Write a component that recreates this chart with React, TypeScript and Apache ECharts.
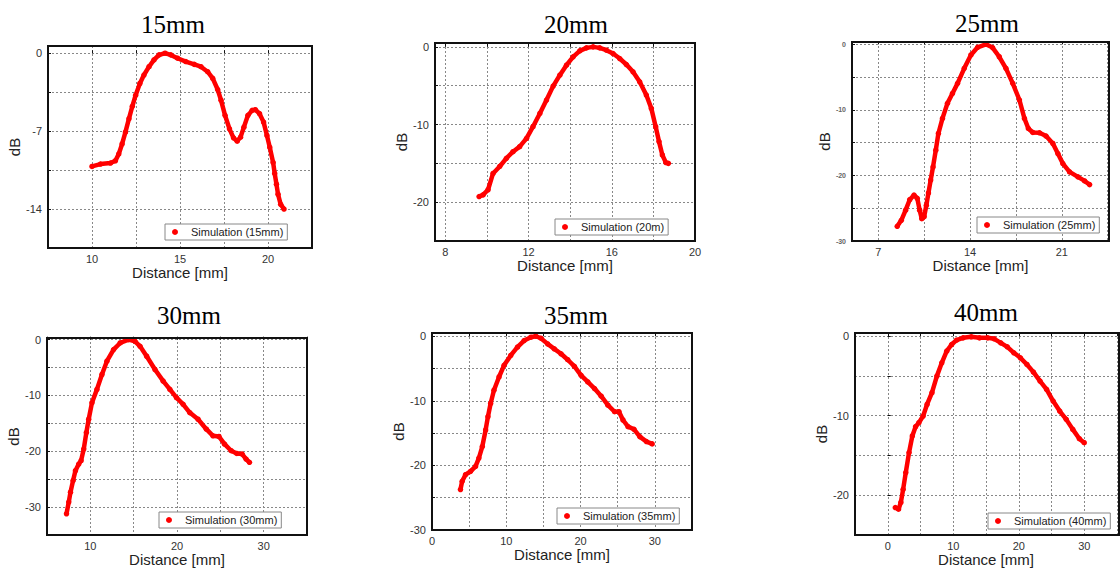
import React, { useEffect, useRef } from 'react';
import * as echarts from 'echarts';

// ---------- data ----------
const titles = ['15mm', '20mm', '25mm', '30mm', '35mm', '40mm'];
const legendNames = [
  'Simulation (15mm)',
  'Simulation (20m)',
  'Simulation (25mm)',
  'Simulation (30mm)',
  'Simulation (35mm)',
  'Simulation (40mm)',
];

const x15 = [10, 10.48, 11.05, 11.33, 11.52, 11.71, 11.9, 12.1, 12.29, 12.48, 12.72, 12.95, 13.24, 13.52, 13.81, 14.15, 14.48, 14.86, 15.33, 15.81, 16.19, 16.57, 16.86, 17.14, 17.33, 17.56, 17.81, 18.04, 18.25, 18.44, 18.63, 18.86, 19.1, 19.28, 19.52, 19.75, 19.94, 20.1, 20.29, 20.38, 20.48, 20.57, 20.72, 20.91];
const y15 = [-10.17, -9.96, -9.87, -9.66, -9.05, -8.15, -7.09, -5.88, -4.77, -3.77, -2.72, -1.96, -1.21, -0.6, -0.15, 0, -0.15, -0.45, -0.75, -1.0, -1.21, -1.66, -2.26, -3.26, -4.22, -5.58, -6.79, -7.6, -7.9, -7.54, -6.64, -5.58, -5.13, -5.07, -5.43, -6.19, -7.39, -8.45, -9.81, -10.8, -11.77, -12.67, -13.58, -14.0];

const x20 = [9.62, 9.81, 10.05, 10.29, 10.61, 10.93, 11.25, 11.57, 11.9, 12.21, 12.54, 12.86, 13.18, 13.5, 13.82, 14.14, 14.46, 14.78, 15.1, 15.42, 15.74, 16.06, 16.38, 16.7, 17.02, 17.34, 17.66, 17.9, 18.11, 18.27, 18.43, 18.6, 18.72];
const y20 = [-19.27, -19.06, -18.4, -16.3, -15.4, -14.35, -13.5, -12.85, -11.78, -10.28, -8.57, -6.85, -5.05, -3.64, -2.36, -1.28, -0.51, -0.13, 0, -0.13, -0.43, -0.86, -1.5, -2.27, -3.21, -4.5, -6.2, -7.92, -10.28, -12.2, -13.92, -14.9, -15.0];

const x25 = [8.45, 8.76, 9.09, 9.4, 9.73, 9.98, 10.16, 10.32, 10.5, 10.67, 10.83, 11.0, 11.18, 11.39, 11.59, 11.9, 12.28, 12.66, 13.05, 13.56, 14.07, 14.58, 15.21, 15.72, 16.23, 16.74, 17.26, 17.77, 18.15, 18.45, 18.79, 19.3, 19.8, 20.32, 20.7, 21.08, 21.59, 22.23, 22.74, 23.12];
const y25 = [-27.76, -26.85, -25.3, -23.7, -23.0, -23.5, -25.3, -26.6, -26.3, -24.55, -22.67, -20.7, -18.7, -16.15, -13.6, -11.3, -9.0, -7.5, -5.96, -3.67, -1.63, -0.46, 0, -0.5, -1.9, -3.67, -5.96, -8.5, -11.3, -12.84, -13.45, -13.5, -14.0, -15.13, -16.66, -18.19, -19.46, -20.22, -20.84, -21.4];

const x30 = [7.25, 7.51, 7.71, 8.01, 8.28, 8.66, 8.93, 9.24, 9.54, 9.81, 10.19, 10.76, 11.34, 11.91, 12.68, 13.44, 14.4, 15.16, 15.74, 16.5, 17.46, 18.41, 19.18, 19.94, 20.71, 21.47, 22.43, 23.39, 24.15, 24.84, 25.49, 26.25, 26.9, 27.52, 27.97, 28.36];
const y30 = [-31.2, -29.1, -27.33, -25.25, -23.47, -22.28, -21.69, -19.6, -16.64, -14.26, -11.29, -8.91, -6.24, -3.86, -1.78, -0.59, 0, -0.3, -1.19, -2.97, -5.35, -7.43, -8.91, -10.4, -11.59, -13.07, -14.26, -16.04, -17.23, -17.35, -18.72, -19.9, -20.38, -20.5, -21.39, -21.98];

const x35 = [3.83, 4.06, 4.51, 5.19, 5.86, 6.31, 6.77, 7.22, 7.53, 7.89, 8.34, 9.02, 9.7, 10.6, 11.5, 12.4, 13.31, 13.98, 14.66, 15.56, 16.46, 17.37, 18.27, 19.17, 20.07, 20.97, 21.88, 22.78, 23.68, 24.58, 25.17, 25.71, 26.39, 27.2, 27.97, 28.87, 29.64];
const y35 = [-23.74, -22.46, -21.44, -20.92, -20.15, -18.87, -17.08, -14.51, -12.46, -10.41, -8.36, -6.31, -4.51, -2.97, -1.69, -0.67, -0.15, 0, -0.31, -1.18, -1.95, -2.72, -3.64, -4.67, -6.05, -7.08, -8.1, -9.28, -10.67, -11.69, -11.69, -12.97, -14.0, -14.41, -15.54, -16.31, -16.67];

const x40 = [1.15, 1.65, 2.0, 2.35, 2.75, 3.25, 3.75, 4.25, 4.75, 5.4, 6.0, 6.75, 7.5, 8.25, 9.0, 9.75, 10.5, 11.5, 12.75, 14.0, 15.25, 16.25, 17.25, 18.25, 19.25, 20.25, 21.25, 22.25, 23.25, 24.25, 25.25, 26.25, 27.25, 28.25, 29.25, 30.0];
const y40 = [-21.55, -21.76, -20.9, -19.25, -17.15, -14.64, -12.55, -11.38, -10.88, -10.04, -8.58, -7.11, -5.02, -3.35, -1.88, -1.05, -0.5, -0.21, -0.08, -0.21, -0.21, -0.33, -0.84, -1.34, -2.09, -2.72, -3.56, -4.52, -5.65, -6.69, -8.16, -9.41, -10.46, -11.72, -12.89, -13.39];

const xTicks15 = [10, 15, 20];
const yTicks15 = [0, -7, -14];
const xTicks20 = [8, 12, 16, 20];
const yTicks20 = [0, -10, -20];
const xTicks25 = [7, 14, 21];
const yTicks25 = [0, -10, -20, -30];
const xTicks30 = [10, 20, 30];
const yTicks30 = [0, -10, -20, -30];
const xTicks35 = [0, 10, 20, 30];
const yTicks35 = [0, -10, -20, -30];
const xTicks40 = [0, 10, 20, 30];
const yTicks40 = [0, -10, -20];

const xName = 'Distance [mm]';
const yName = 'dB';

// ---------- layout ----------
const panels = [
  { xs: x15, ys: y15, xt: xTicks15, yt: yTicks15, grid: [48, 46, 264, 202], xr: [7.5, 22.5, 2.5], yr: [-17.5, 0.65, 3.5], tp: [173, 24], lp: [165, 224], yGap: 16, xGap: 16, smallY: false },
  { xs: x20, ys: y20, xt: xTicks20, yt: yTicks20, grid: [435, 43, 260, 198], xr: [7.5, 20, 2], yr: [-25, 0.5, 5], tp: [576, 24], lp: [555, 219], yGap: 15, xGap: 16, smallY: false },
  { xs: x25, ys: y25, xt: xTicks25, yt: yTicks25, grid: [852, 42, 257, 199], xr: [5, 24.6, 3.5], yr: [-30, 0.35, 5], tp: [987, 23], lp: [977, 217], yGap: 14, xGap: 14, smallY: true },
  { xs: x30, ys: y30, xt: xTicks30, yt: yTicks30, grid: [47, 338, 260, 197], xr: [5, 35, 5], yr: [-35, 0.3, 5], tp: [189, 315], lp: [159, 512], yGap: 22, xGap: 14, smallY: false },
  { xs: x35, ys: y35, xt: xTicks35, yt: yTicks35, grid: [432, 333, 260, 197], xr: [0, 35, 5], yr: [-30, 0.5, 5], tp: [576, 315], lp: [557, 508], yGap: 16, xGap: 11, smallY: false },
  { xs: x40, ys: y40, xt: xTicks40, yt: yTicks40, grid: [855, 333, 264, 202], xr: [-5, 35, 5], yr: [-25, 0.4, 5], tp: [986, 312], lp: [988, 513], yGap: 17, xGap: 13, smallY: false },
];

const FONT = 'Liberation Sans';
const RED = '#ff0000';

function labelFormatter(list: number[]) {
  return (v: number) => (list.some((l) => Math.abs(l - v) < 1e-6) ? String(v) : '');
}

function buildOption() {
  const grid: any[] = [];
  const xAxis: any[] = [];
  const yAxis: any[] = [];
  const series: any[] = [];
  const legend: any[] = [];
  const graphic: any[] = [];

  panels.forEach((p, i) => {
    grid.push({
      left: p.grid[0], top: p.grid[1], width: p.grid[2], height: p.grid[3],
      show: false,
    });
    xAxis.push({
      type: 'value', gridIndex: i, min: p.xr[0], max: p.xr[1], minInterval: p.xr[2], maxInterval: p.xr[2],
      splitNumber: 8,
      axisLine: { show: false },
      axisTick: { show: true, inside: true, length: 3, lineStyle: { color: '#111' } },
      splitLine: { show: true, lineStyle: { color: '#888', type: [2, 2], width: 1 } },
      axisLabel: { formatter: labelFormatter(p.xt), fontSize: 11, color: '#333', fontFamily: FONT, margin: 5 },
      name: xName, nameLocation: 'middle', nameGap: p.xGap,
      nameTextStyle: { fontSize: 15, color: '#222', fontFamily: FONT },
    });
    yAxis.push({
      type: 'value', gridIndex: i, min: p.yr[0], max: p.yr[1], minInterval: p.yr[2], maxInterval: p.yr[2],
      splitNumber: 8,
      axisLine: { show: false },
      axisTick: { show: true, inside: true, length: 3, lineStyle: { color: '#111' } },
      splitLine: { show: true, lineStyle: { color: '#888', type: [2, 2], width: 1 } },
      axisLabel: p.smallY
        ? { formatter: labelFormatter(p.yt), fontSize: 7, fontWeight: 'bold', color: '#666', fontFamily: FONT, margin: 6 }
        : { formatter: labelFormatter(p.yt), fontSize: 11, color: '#333', fontFamily: FONT, margin: 6 },
      name: yName, nameLocation: 'middle', nameGap: p.yGap, nameRotate: 90,
      nameTextStyle: { fontSize: 15, color: '#222', fontFamily: FONT },
    });
    series.push({
      type: 'line', name: legendNames[i], xAxisIndex: i, yAxisIndex: i,
      data: p.xs.map((x, j) => [x, p.ys[j]]),
      symbol: 'circle', symbolSize: 5.5, showSymbol: true,
      lineStyle: { color: RED, width: 4.5 },
      itemStyle: { color: RED },
      z: 3,
    });
    legend.push({
      data: [legendNames[i]], left: p.lp[0], top: p.lp[1], orient: 'horizontal',
      icon: 'circle', itemWidth: 22, itemHeight: 6, padding: [2, 4, 2, 7],
      borderColor: '#888', borderWidth: 1, backgroundColor: '#fff',
      textStyle: { fontSize: 11, color: '#222', fontFamily: FONT, lineHeight: 12 },
      selectedMode: false,
    });
    graphic.push({
      type: 'text', x: p.tp[0], y: p.tp[1],
      style: { text: titles[i], fill: '#000', font: '25px "Liberation Serif"', textAlign: 'center', textVerticalAlign: 'middle' },
    });
    graphic.push({
      type: 'rect', z: 100, silent: true,
      shape: { x: p.grid[0], y: p.grid[1], width: p.grid[2], height: p.grid[3] },
      style: { fill: 'none', stroke: '#111', lineWidth: 2 },
    });
  });

  return {
    animation: false,
    backgroundColor: '#fff',
    textStyle: { fontFamily: FONT },
    grid, xAxis, yAxis, series, legend, graphic,
  };
}

export default function App() {
  const ref = useRef<HTMLDivElement>(null);
  useEffect(() => {
    if (!ref.current) return;
    const chart = echarts.init(ref.current, undefined, { renderer: 'svg' });
    chart.setOption(buildOption() as any);
    return () => chart.dispose();
  }, []);
  return (
    <div
      ref={ref}
      style={{ position: 'fixed', left: 0, top: 0, width: 1120, height: 570, background: '#fff' }}
    />
  );
}
